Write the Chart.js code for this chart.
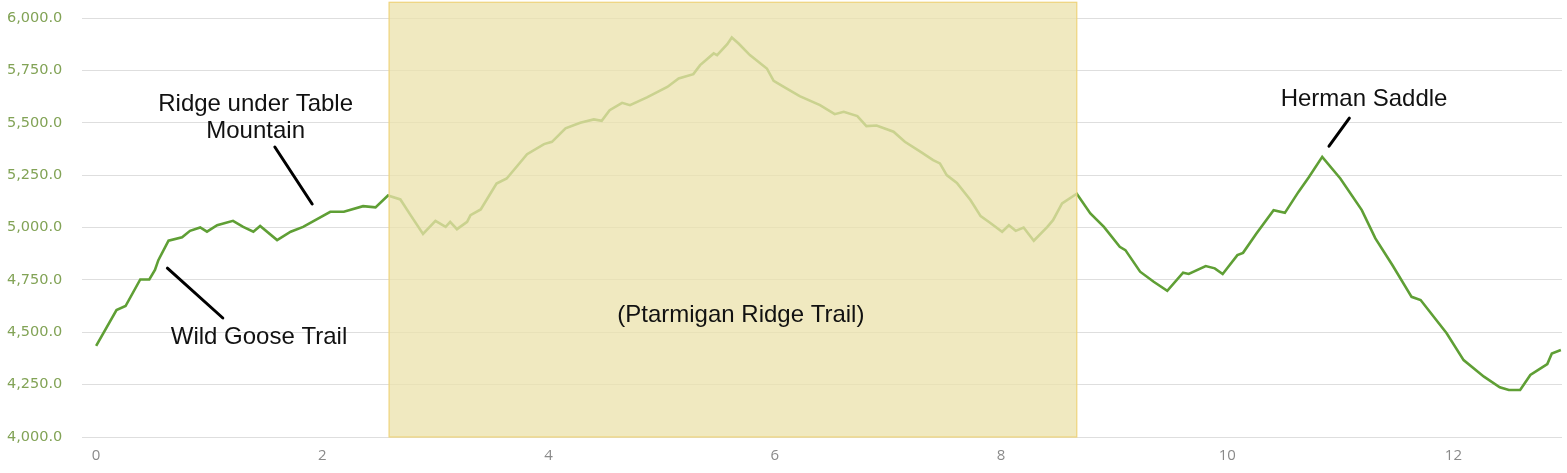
<!DOCTYPE html>
<html>
<head>
<meta charset="utf-8">
<script src="https://cdn.jsdelivr.net/npm/chart.js@4"></script>
<style>
  html, body { margin: 0; padding: 0; background: #fff; }
  #wrap { width: 1567px; height: 473px; }
</style>
</head>
<body>
<div id="wrap"><canvas id="canvas"></canvas></div>
<script>
// distance along the trail (miles)
const distances = [
  0, 0.18, 0.26, 0.39, 0.47, 0.52, 0.55, 0.64, 0.76, 0.83, 0.92, 0.98, 1.07, 1.21, 1.30, 1.39, 1.45,
  1.60, 1.72, 1.83, 2.07, 2.19, 2.36, 2.47, 2.58,
  2.69, 2.78, 2.89, 3.00, 3.09, 3.13, 3.19, 3.28, 3.31, 3.40, 3.54, 3.63, 3.81, 3.96, 4.03, 4.15,
  4.28, 4.40, 4.47, 4.54, 4.65, 4.72, 4.87, 5.05, 5.15, 5.28, 5.34, 5.46, 5.49, 5.58, 5.62, 5.68,
  5.78, 5.93, 5.99, 6.08, 6.22, 6.40, 6.53, 6.61, 6.73, 6.81, 6.90, 7.05, 7.15, 7.29, 7.40, 7.46,
  7.52, 7.61, 7.73, 7.82, 7.90, 8.01, 8.07, 8.13, 8.20, 8.29, 8.41, 8.46, 8.54, 8.67,
  8.79, 8.91, 9.05, 9.10, 9.23, 9.35, 9.47, 9.61, 9.66, 9.81, 9.89, 9.96, 10.01, 10.09, 10.14,
  10.26, 10.41, 10.51, 10.63, 10.72, 10.84, 11.00, 11.19, 11.31, 11.46, 11.63, 11.71, 11.94,
  12.09, 12.27, 12.41, 12.49, 12.59, 12.68, 12.75, 12.83, 12.87, 12.95
];
// elevation (feet)
const elevations = [
  4435, 4606, 4625, 4752, 4752, 4797, 4844, 4937, 4953, 4984, 5000, 4980, 5011, 5032, 5003, 4980, 5007,
  4940, 4980, 5003, 5075, 5075, 5102, 5096, 5153,
  5134, 5059, 4969, 5032, 5003, 5027, 4992, 5027, 5059, 5086, 5210, 5234, 5350, 5398, 5409, 5473,
  5500, 5516, 5509, 5560, 5595, 5584, 5621, 5671, 5711, 5732, 5775, 5831, 5823, 5875, 5907, 5878,
  5823, 5759, 5700, 5671, 5627, 5584, 5541, 5552, 5532, 5484, 5487, 5457, 5409, 5361, 5322, 5306,
  5250, 5213, 5131, 5054, 5024, 4980, 5011, 4984, 5000, 4937, 5003, 5035, 5115, 5161,
  5067, 5003, 4908, 4892, 4789, 4741, 4698, 4784, 4778, 4816, 4805, 4778, 4813, 4868, 4879,
  4972, 5083, 5070, 5170, 5239, 5337, 5234, 5083, 4948, 4821, 4669, 4654, 4495,
  4367, 4288, 4237, 4224, 4224, 4296, 4320, 4348, 4399, 4415
];
const xTicks = [0, 2, 4, 6, 8, 10, 12];

// highlighted section: Ptarmigan Ridge Trail
const sectionStart = 2.59;
const sectionEnd = 8.67;
const sectionTop = 6075;
const sectionLabel = '(Ptarmigan Ridge Trail)';
const sectionLabelAt = [5.70, 4582];

// callouts: text lines, text anchor [x, y], leader line [x1, y1, x2, y2]
const callouts = [
  { text: ['Ridge under Table', 'Mountain'], at: [1.41, 5590], leader: [1.58, 5384, 1.91, 5112] },
  { text: ['Wild Goose Trail'], at: [1.44, 4477], leader: [0.63, 4806, 1.12, 4568] },
  { text: ['Herman Saddle'], at: [11.21, 5613], leader: [11.08, 5522, 10.90, 5388] }
];

const overlayPlugin = {
  id: 'overlay',
  afterDatasetsDraw(chart) {
    const {ctx, scales: {x, y}} = chart;
    ctx.save();
    // section box drawn over the line so the line looks faded inside it
    const left = x.getPixelForValue(sectionStart);
    const right = x.getPixelForValue(sectionEnd);
    const top = y.getPixelForValue(sectionTop);
    const bottom = y.getPixelForValue(4000);
    ctx.fillStyle = 'rgba(235, 226, 172, 0.76)';
    ctx.fillRect(left, top, right - left, bottom - top);
    ctx.strokeStyle = '#efd47c';
    ctx.lineWidth = 1.2;
    ctx.strokeRect(left, top, right - left, bottom - top);

    ctx.fillStyle = '#111';
    ctx.textAlign = 'center';
    ctx.textBaseline = 'middle';
    ctx.font = '24px "Liberation Sans", Arial, sans-serif';
    ctx.fillText(sectionLabel, x.getPixelForValue(sectionLabelAt[0]), y.getPixelForValue(sectionLabelAt[1]));

    ctx.strokeStyle = '#000';
    ctx.lineWidth = 3;
    ctx.lineCap = 'round';
    callouts.forEach(c => {
      const cx = x.getPixelForValue(c.at[0]);
      const cy = y.getPixelForValue(c.at[1]);
      c.text.forEach((line, i) => ctx.fillText(line, cx, cy + i * 27));
      ctx.beginPath();
      ctx.moveTo(x.getPixelForValue(c.leader[0]), y.getPixelForValue(c.leader[1]));
      ctx.lineTo(x.getPixelForValue(c.leader[2]), y.getPixelForValue(c.leader[3]));
      ctx.stroke();
    });
    ctx.restore();
  }
};

window.onload = () => {
  const ctx = document.getElementById('canvas').getContext('2d');
  window.myLine = new Chart(ctx, {
    type: 'line',
    data: {
      datasets: [{
        label: 'Elevation',
        data: distances.map((d, i) => ({x: d, y: elevations[i]})),
        borderColor: '#5f9f35',
        borderWidth: 2.6,
        pointRadius: 0,
        tension: 0,
        fill: false
      }]
    },
    options: {
      responsive: true,
      maintainAspectRatio: false,
      animation: false,
      layout: { padding: { left: 7, top: 18, right: 5, bottom: 0 } },
      plugins: {
        legend: { display: false },
        tooltip: { enabled: false }
      },
      scales: {
        x: {
          type: 'linear',
          min: -0.125,
          max: 12.96,
          afterBuildTicks: scale => { scale.ticks = xTicks.map(v => ({value: v})); },
          afterFit: scale => { scale.height = 36; },
          grid: { display: false, drawTicks: false },
          border: { display: false },
          ticks: {
            padding: 10,
            color: '#8a8a8a',
            font: { family: '"Open Sans", sans-serif', size: 15 },
            maxRotation: 0
          }
        },
        y: {
          min: 4000,
          max: 6000,
          afterFit: scale => { scale.width = 75; },
          grid: { color: '#dedede', lineWidth: 1, drawTicks: false },
          border: { display: false },
          ticks: {
            stepSize: 250,
            crossAlign: 'far',
            padding: 8,
            color: '#82a356',
            font: { family: '"DejaVu Sans", sans-serif', size: 14.5 },
            callback: v => v.toLocaleString('en-US', {minimumFractionDigits: 1, maximumFractionDigits: 1})
          }
        }
      }
    },
    plugins: [overlayPlugin]
  });
};
</script>
</body>
</html>
